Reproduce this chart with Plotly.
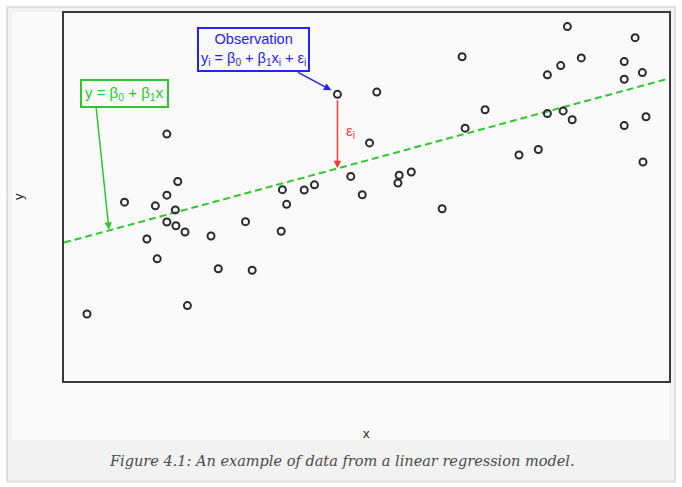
import plotly.graph_objects as go

# ---- data ----
x_vals = [0.38, 1.00, 1.37, 1.51, 1.54, 1.70, 1.70, 1.70, 1.84, 1.85,
          1.88, 2.00, 2.04, 2.43, 2.55, 3.00, 3.11, 3.59, 3.61, 3.68,
          3.97, 4.14, 4.52, 4.74, 4.93, 5.05, 5.17, 5.52, 5.54, 5.74,
          6.25, 6.58, 6.63, 6.96, 7.52, 7.84, 7.99, 7.99, 8.21, 8.25,
          8.32, 8.40, 8.55, 9.26, 9.26, 9.26, 9.44, 9.56, 9.57, 9.62]
y_vals = [1.82, 4.86, 3.86, 4.76, 3.32, 6.71, 5.05, 4.32, 4.65, 4.22,
          5.42, 4.05, 2.05, 3.94, 3.05, 4.33, 3.01, 4.07, 5.20, 4.80,
          5.19, 5.33, 7.79, 5.56, 5.06, 6.47, 7.85, 5.38, 5.59, 5.68,
          4.68, 8.81, 6.87, 7.37, 6.14, 6.29, 8.32, 7.27, 8.57, 7.34,
          9.63, 7.10, 8.78, 8.68, 8.20, 6.94, 9.33, 8.38, 5.95, 7.18]
line_x = [0.0, 10.0]
line_y = [3.76, 8.22]
obs_x, obs_y = 4.52, 7.79
fit_at_obs = 5.78

W, H = 682, 487
L, R, T, B = 64, 12, 11, 106
pw, ph = W - L - R, H - T - B


def fx(px):
    return (px - L) / pw


def fy(py):
    return (H - B - py) / ph


GREEN = "#2dc82d"
BLUE = "#2323ff"
RED = "#ff3a3a"
SANS = "Liberation Sans, Arial"

fig = go.Figure()
fig.add_trace(go.Scatter(x=line_x, y=line_y, mode="lines",
                         line=dict(color=GREEN, width=2, dash="7px,4px"),
                         hoverinfo="skip", showlegend=False))
fig.add_trace(go.Scatter(x=x_vals, y=y_vals, mode="markers",
                         marker=dict(symbol="circle-open", size=7, color="#2a2a2a",
                                     line=dict(width=2, color="#2a2a2a")),
                         showlegend=False))

shapes = [
    dict(type="rect", xref="paper", yref="paper", layer="below",
         x0=fx(7), x1=fx(676), y0=fy(482), y1=fy(5),
         line=dict(color="#d8d8d8", width=1.5), fillcolor="#f2f2f2"),
    dict(type="rect", xref="paper", yref="paper", layer="below",
         x0=fx(12), x1=fx(670), y0=fy(440), y1=fy(10),
         line=dict(width=0), fillcolor="#fafafa"),
]

ann = []
# blue observation box
ann.append(dict(x=3.135, y=9.01, xref="x", yref="y", showarrow=False,
                text="Observation<br>y<sub>i</sub> = β<sub>0</sub> + β<sub>1</sub>x<sub>i</sub> + ε<sub>i</sub>",
                font=dict(family=SANS, size=14.5, color=BLUE),
                bordercolor=BLUE, borderwidth=2, borderpad=2, bgcolor="#fafafa"))
ann.append(dict(x=4.42, y=7.90, ax=3.845, ay=8.41, xref="x", yref="y",
                axref="x", ayref="y", text="", showarrow=True, arrowhead=2,
                arrowsize=1, arrowwidth=1.5, arrowcolor=BLUE, standoff=0))
# green line box
ann.append(dict(x=0.998, y=7.81, xref="x", yref="y", showarrow=False,
                text="y = β<sub>0</sub> + β<sub>1</sub>x",
                font=dict(family=SANS, size=15, color=GREEN),
                bordercolor=GREEN, borderwidth=2, borderpad=3, bgcolor="#fafafa"))
ann.append(dict(x=0.743, y=4.11, ax=0.528, ay=7.49, xref="x", yref="y",
                axref="x", ayref="y", text="", showarrow=True, arrowhead=2,
                arrowsize=1, arrowwidth=1.5, arrowcolor=GREEN, standoff=0))
# red residual arrow
ann.append(dict(x=obs_x, y=fit_at_obs, ax=obs_x, ay=obs_y - 0.12, xref="x", yref="y",
                axref="x", ayref="y", text="", showarrow=True, arrowhead=2,
                arrowsize=1, arrowwidth=1.5, arrowcolor=RED, standoff=0))
ann.append(dict(x=4.62, y=6.78, xref="x", yref="y", showarrow=False,
                text="ε<sub>i</sub>", xanchor="left",
                font=dict(family=SANS, size=15, color=RED)))
# axis labels
ann.append(dict(x=fx(367), y=fy(434), xref="paper", yref="paper", showarrow=False,
                xanchor="center", yanchor="middle",
                text="x", font=dict(family=SANS, size=13, color="#222")))
ann.append(dict(x=fx(18), y=fy(196), xref="paper", yref="paper", showarrow=False,
                xanchor="center", yanchor="middle",
                text="y", textangle=-90,
                font=dict(family=SANS, size=13, color="#222")))
# caption
ann.append(dict(x=fx(342), y=fy(461), xref="paper", yref="paper", showarrow=False,
                xanchor="center", yanchor="middle",
                text="<i>Figure 4.1: An example of data from a linear regression model.</i>",
                font=dict(family="DejaVu Serif", size=14.5, color="#4a4a4a")))

fig.update_layout(
    width=W, height=H,
    margin=dict(l=L, r=R, t=T, b=B),
    paper_bgcolor="white", plot_bgcolor="#fafafa",
    shapes=shapes, annotations=ann,
    xaxis=dict(range=[0, 10], showgrid=False, zeroline=False, showticklabels=False,
               ticks="", showline=True, mirror=True, linecolor="#3a3a3a", linewidth=2),
    yaxis=dict(range=[0, 10], showgrid=False, zeroline=False, showticklabels=False,
               ticks="", showline=True, mirror=True, linecolor="#3a3a3a", linewidth=2),
)

fig.write_html("out.html")
